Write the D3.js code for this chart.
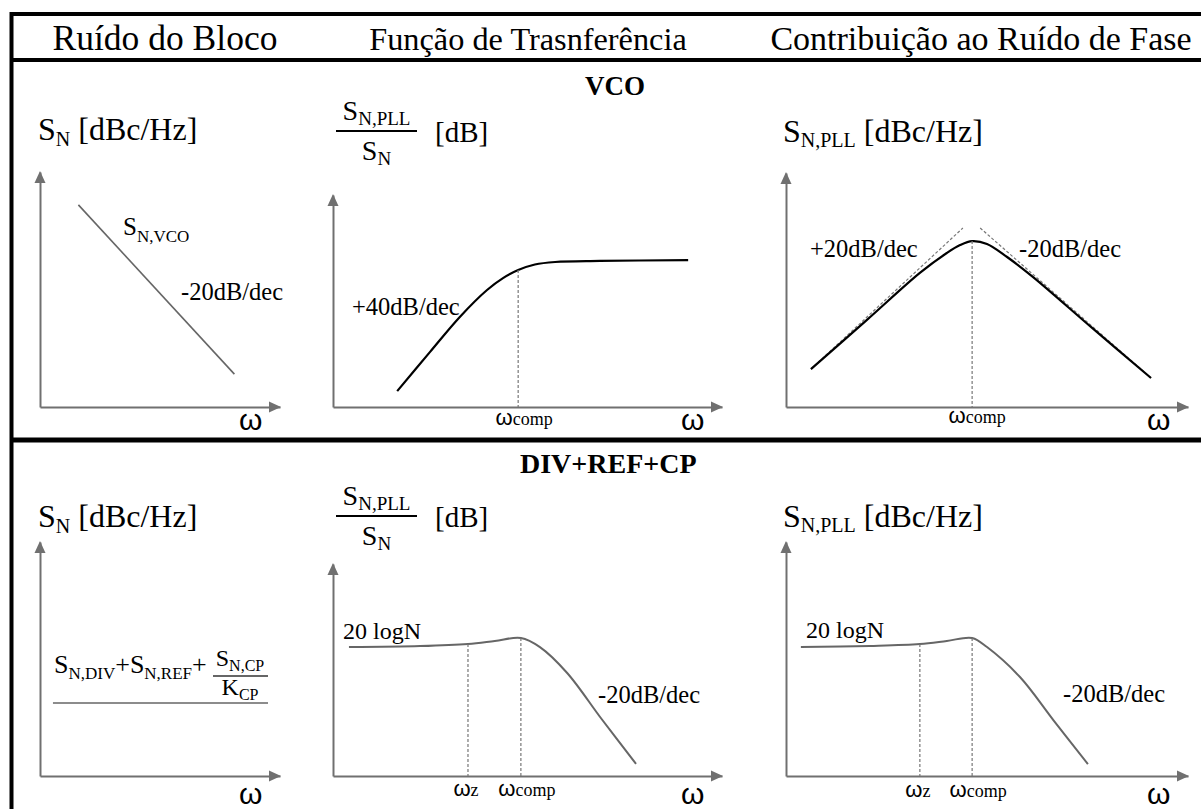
<!DOCTYPE html>
<html>
<head>
<meta charset="utf-8">
<script src="https://cdn.jsdelivr.net/npm/d3@7"></script>
<style>
body{margin:0;background:#fff;}
text{font-family:"Liberation Serif","Times New Roman",serif;fill:#000;}
.w{font-family:"Liberation Sans",Arial,sans-serif;}
</style>
</head>
<body>
<svg id="chart" width="1201" height="809"></svg>
<script>
const headers = ["Ruído do Bloco", "Função de Trasnferência", "Contribuição ao Ruído de Fase"];
const headerX = [165, 528, 981];
const headerSize = [35.5, 32.3, 34];
const rowTitles = ["VCO", "DIV+REF+CP"];

// curves in panel units (0..100 along each axis)
const vcoNoise = [[16, 86], [81, 14]];
const vcoTransfer = [[16.5, 7.5], [24.9, 25.9], [32.6, 42.5], [39.6, 55.2], [43.7, 60.8], [47.6, 64.6], [51.9, 67.2], [57.1, 68.4], [68.6, 68.9], [91.3, 69.3]];
const vcoContrib = [[6.2, 16.2], [20, 37], [33.3, 57.3], [40, 65.8], [43.3, 69.2], [46.3, 70.9], [50, 69.7], [55, 64.1], [61.4, 55.6], [76, 34], [90.8, 12.4]];
const vcoAsymLeft = [[6.2, 16.2], [44, 76.5]];
const vcoAsymRight = [[48.3, 76.5], [90.8, 12.4]];
const divNoise = [[5.4, 31.2], [95, 31.2]];
const divTransfer = [[4.1, 60.8], [22.4, 61.3], [34.7, 62.3], [41.6, 63.7], [48.3, 65.1], [53.2, 60.8], [60.2, 48.6], [69, 27], [77.9, 5.7]];
const divContrib = [[3.7, 55.1], [20.9, 55.6], [33.3, 56.4], [40, 57.7], [46.3, 59], [50, 55.1], [58.2, 42.3], [66.6, 23.7], [75.1, 5.1]];

// frequency markers: [x, y on curve, label]
const vcoTransferMarks = [[47.6, 64.6, "comp"]];
const vcoContribMarks = [[46.3, 70.9, "comp"]];
const divTransferMarks = [[34.7, 62.3, "z"], [48.3, 65.1, "comp"]];
const divContribMarks = [[33.3, 56.4, "z"], [46.3, 59, "comp"]];

const svg = d3.select("#chart");
const axisColor = "#707070";

// frame
svg.append("path").attr("d", "M1201,14H11.5V809").attr("fill", "none").attr("stroke", "#000").attr("stroke-width", 4);
svg.append("line").attr("x1", 11).attr("x2", 1201).attr("y1", 60).attr("y2", 60).attr("stroke", "#000").attr("stroke-width", 4);
svg.append("line").attr("x1", 11).attr("x2", 1201).attr("y1", 440).attr("y2", 440).attr("stroke", "#000").attr("stroke-width", 5);

headers.forEach((h, i) => {
  svg.append("text").attr("x", headerX[i]).attr("y", 50).attr("text-anchor", "middle")
    .attr("font-size", headerSize[i]).text(h);
});
svg.append("text").attr("x", 585).attr("y", 95).attr("font-size", 27).attr("font-weight", "bold").text(rowTitles[0]);
svg.append("text").attr("x", 520).attr("y", 473).attr("font-size", 28).attr("font-weight", "bold").text(rowTitles[1]);

function rich(x, y, parts, anchor) {
  const t = svg.append("text").attr("x", x).attr("y", y).attr("text-anchor", anchor || "start");
  let shifted = 0;
  parts.forEach(p => {
    const want = p[2] || 0;
    const s = t.append("tspan").text(p[0]).attr("font-size", p[1]).attr("dy", want - shifted);
    shifted = want;
    if (p[3]) s.attr("class", p[3]);
  });
  return t;
}

function panel(f) {
  const x = d3.scaleLinear().domain([0, 100]).range([f.x0, f.x1]);
  const y = d3.scaleLinear().domain([0, 100]).range([f.y0, f.y1]);
  const gx = svg.append("g").attr("transform", `translate(0,${f.y0})`).attr("color", axisColor)
    .call(d3.axisBottom(x).tickValues([]).tickSizeOuter(0));
  const gy = svg.append("g").attr("transform", `translate(${f.x0},0)`).attr("color", axisColor)
    .call(d3.axisLeft(y).tickValues([]).tickSizeOuter(0));
  gx.select(".domain").attr("stroke-width", 2);
  gy.select(".domain").attr("stroke-width", 2);
  svg.append("path").attr("fill", axisColor)
    .attr("d", `M${x(100) + 1},${f.y0} l-12,-5.5 l0,11 z`);
  svg.append("path").attr("fill", axisColor)
    .attr("d", `M${f.x0},${y(100) - 1} l-5.5,12 l11,0 z`);
  rich(x(100) - 41, f.wy, [["ω", 30, 0, "w"]]);
  return {x, y};
}

function curve(p, data, color, width, smooth) {
  const line = d3.line().x(d => p.x(d[0])).y(d => p.y(d[1]));
  if (smooth) line.curve(d3.curveCatmullRom.alpha(0.5));
  svg.append("path").datum(data).attr("fill", "none").attr("stroke", color)
    .attr("stroke-width", width).attr("stroke-linecap", "butt").attr("d", line);
}

function dashed(p, data) {
  svg.append("path").datum(data).attr("fill", "none").attr("stroke", "#777")
    .attr("stroke-width", 1.2).attr("stroke-dasharray", "3,2")
    .attr("d", d3.line().x(d => p.x(d[0])).y(d => p.y(d[1])));
}

function marks(p, data, ly, shifts) {
  data.forEach((m, i) => {
    dashed(p, [[m[0], m[1]], [m[0], 0]]);
    rich(p.x(m[0]) + shifts[i], ly, [["ω", 22, 0, "w"], [m[2], 18]], "middle");
  });
}

function fraction(cx, ny, by, dy, sub) {
  rich(cx, ny, [["S", 28], ["N," + sub, 19, 5]], "middle");
  svg.append("line").attr("x1", cx - 40.5).attr("x2", cx + 40.5).attr("y1", by).attr("y2", by)
    .attr("stroke", "#000").attr("stroke-width", 1.8);
  rich(cx, dy, [["S", 28], ["N", 19, 5]], "middle");
}

// ---- VCO row ----
const p1 = panel({x0: 40, x1: 280, y0: 407, y1: 172, wy: 430});
curve(p1, vcoNoise, "#666", 1.6, false);
rich(38, 140, [["S", 32], ["N", 20, 6], [" [dBc/Hz]", 32]]);
rich(123, 235, [["S", 25], ["N,VCO", 17, 7]]);
rich(181, 300, [["-20dB/dec", 24.5]]);

const p2 = panel({x0: 333, x1: 722, y0: 407, y1: 195, wy: 430});
curve(p2, vcoTransfer, "#000", 2.2, true);
marks(p2, vcoTransferMarks, 425, [6]);
fraction(376.5, 120, 131, 160, "PLL");
rich(435, 142, [["[dB]", 29]]);
rich(352, 315, [["+40dB/dec", 24.5]]);

const p3 = panel({x0: 786, x1: 1188, y0: 407, y1: 173, wy: 430});
dashed(p3, vcoAsymLeft);
dashed(p3, vcoAsymRight);
curve(p3, vcoContrib, "#000", 2.2, true);
marks(p3, vcoContribMarks, 423, [5]);
rich(783, 142, [["S", 32], ["N,PLL", 20, 5], [" [dBc/Hz]", 32]]);
rich(810, 257, [["+20dB/dec", 24.5]]);
rich(1019, 257, [["-20dB/dec", 24.5]]);

// ---- DIV+REF+CP row ----
const p4 = panel({x0: 40, x1: 280, y0: 776, y1: 542, wy: 804});
curve(p4, divNoise, "#666", 1.6, false);
rich(38, 527, [["S", 32], ["N", 20, 6], [" [dBc/Hz]", 32]]);
rich(54, 673, [["S", 26], ["N,DIV", 17, 6], ["+S", 26], ["N,REF", 17, 6], ["+", 26]]);
rich(240, 666, [["S", 24], ["N,CP", 16, 5]], "middle");
svg.append("line").attr("x1", 213).attr("x2", 268).attr("y1", 676).attr("y2", 676)
  .attr("stroke", "#333").attr("stroke-width", 1.5);
rich(240, 695, [["K", 24], ["CP", 16, 5]], "middle");

const p5 = panel({x0: 333, x1: 722, y0: 776, y1: 564, wy: 804});
curve(p5, divTransfer, "#666", 2, true);
marks(p5, divTransferMarks, 796, [-2, 6]);
fraction(376.5, 505, 516, 545, "PLL");
rich(435, 527, [["[dB]", 29]]);
rich(343, 639, [["20 logN", 24]]);
rich(598, 703, [["-20dB/dec", 24.5]]);

const p6 = panel({x0: 786, x1: 1188, y0: 776, y1: 542, wy: 804});
curve(p6, divContrib, "#666", 2, true);
marks(p6, divContribMarks, 797, [-2, 6]);
rich(783, 527, [["S", 32], ["N,PLL", 20, 5], [" [dBc/Hz]", 32]]);
rich(806, 638, [["20 logN", 24]]);
rich(1063, 702, [["-20dB/dec", 24.5]]);
</script>
</body>
</html>
